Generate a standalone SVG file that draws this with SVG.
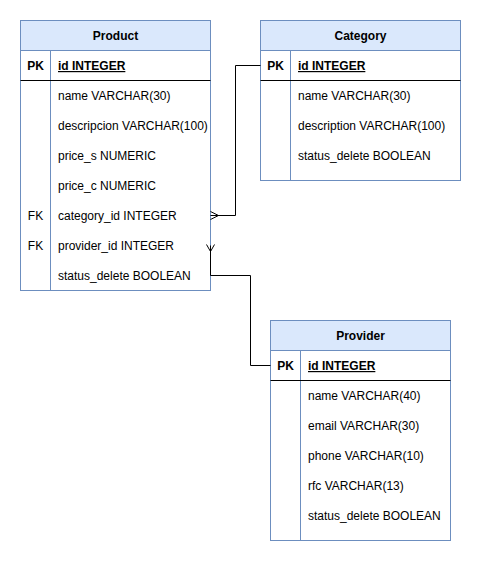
<svg xmlns="http://www.w3.org/2000/svg" width="481" height="561" viewBox="0 0 481 561">
<style>
text{font-family:"Liberation Sans",Arial,sans-serif;font-size:12px;fill:#000}
.hdr{fill:#dae8fc;stroke:#6c8ebf;stroke-width:1}
.box{fill:#fff;stroke:#6c8ebf;stroke-width:1}
.sep{stroke:#000;stroke-width:1;fill:none}
.col{stroke:#6c8ebf;stroke-width:1}
.t{font-weight:bold;text-anchor:middle}
.k{text-anchor:middle}
.pk{font-weight:bold;text-decoration:underline}
.b{font-weight:bold}
.edge{fill:none;stroke:#000;stroke-width:1}
</style>
<rect width="481" height="561" fill="#fff"/>
<g id="Product">
<rect class="box" x="20.5" y="20.5" width="190" height="270"/>
<rect class="hdr" x="20.5" y="20.5" width="190" height="30"/>
<line class="col" x1="50.5" y1="50.5" x2="50.5" y2="290.5"/>
<line class="sep" x1="20.5" y1="80.5" x2="210.5" y2="80.5"/>
<text class="t" x="115.5" y="40">Product</text>
<text class="k b" x="35.5" y="70">PK</text>
<text class="pk" x="58" y="70">id INTEGER</text>
<text x="58" y="100">name VARCHAR(30)</text>
<text x="58" y="130">descripcion VARCHAR(100)</text>
<text x="58" y="160">price_s NUMERIC</text>
<text x="58" y="190">price_c NUMERIC</text>
<text class="k" x="35.5" y="220">FK</text>
<text x="58" y="220">category_id INTEGER</text>
<text class="k" x="35.5" y="250">FK</text>
<text x="58" y="250">provider_id INTEGER</text>
<text x="58" y="280">status_delete BOOLEAN</text>
</g>
<g id="Category">
<rect class="box" x="260.5" y="20.5" width="200" height="160"/>
<rect class="hdr" x="260.5" y="20.5" width="200" height="30"/>
<line class="col" x1="290.5" y1="50.5" x2="290.5" y2="180.5"/>
<line class="sep" x1="260.5" y1="80.5" x2="460.5" y2="80.5"/>
<text class="t" x="360.5" y="40">Category</text>
<text class="k b" x="275.5" y="70">PK</text>
<text class="pk" x="298" y="70">id INTEGER</text>
<text x="298" y="100">name VARCHAR(30)</text>
<text x="298" y="130">description VARCHAR(100)</text>
<text x="298" y="160">status_delete BOOLEAN</text>
</g>
<g id="Provider">
<rect class="box" x="270.5" y="320.5" width="180" height="220"/>
<rect class="hdr" x="270.5" y="320.5" width="180" height="30"/>
<line class="col" x1="300.5" y1="350.5" x2="300.5" y2="540.5"/>
<line class="sep" x1="270.5" y1="380.5" x2="450.5" y2="380.5"/>
<text class="t" x="360.5" y="340">Provider</text>
<text class="k b" x="285.5" y="370">PK</text>
<text class="pk" x="308" y="370">id INTEGER</text>
<text x="308" y="400">name VARCHAR(40)</text>
<text x="308" y="430">email VARCHAR(30)</text>
<text x="308" y="460">phone VARCHAR(10)</text>
<text x="308" y="490">rfc VARCHAR(13)</text>
<text x="308" y="520">status_delete BOOLEAN</text>
</g>
<g id="connectors">
<path class="edge" d="M210.5 215.5 H235.5 V65.5 H260.5"/>
<path class="edge" d="M210.5 211.5 L218.5 215.5 L210.5 219.5"/>
<path class="edge" d="M210.5 245.5 V275.5 H250.5 V365.5 H270.5"/>
<path class="edge" d="M206.5 244.5 L210.5 251.5 L214.5 244.5"/>
</g>
</svg>
